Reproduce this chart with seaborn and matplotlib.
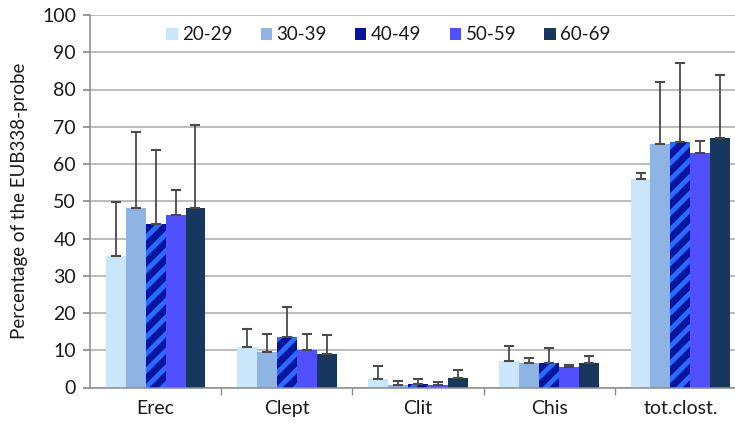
import numpy as np
import pandas as pd
import seaborn as sns
import matplotlib
matplotlib.use("Agg")
import matplotlib.pyplot as plt

# Mean percentage per taxon and age group, with upper standard deviation
categories = ["Erec", "Clept", "Clit", "Chis", "tot.clost."]
age_groups = ["20-29", "30-39", "40-49", "50-59", "60-69"]

means_20_29 = [35.3, 10.8, 2.3, 7.1, 56.0]
means_30_39 = [48.2, 9.6, 0.6, 6.5, 65.5]
means_40_49 = [44.0, 13.5, 1.0, 6.7, 65.9]
means_50_59 = [46.2, 10.0, 0.6, 5.6, 62.9]
means_60_69 = [48.2, 9.0, 2.6, 6.7, 66.9]

sd_20_29 = [14.4, 4.9, 3.5, 4.0, 1.7]
sd_30_39 = [20.4, 4.8, 1.2, 1.4, 16.4]
sd_40_49 = [19.7, 8.1, 1.3, 3.8, 21.2]
sd_50_59 = [6.8, 4.4, 0.9, 0.5, 3.2]
sd_60_69 = [22.3, 5.0, 2.1, 1.7, 16.9]

y_ticks = [0, 10, 20, 30, 40, 50, 60, 70, 80, 90, 100]

colors = ["#C9E6FA", "#8DB4E2", "#06159E", "#5050FF", "#17375E"]

all_means = [means_20_29, means_30_39, means_40_49, means_50_59, means_60_69]
all_sd = [sd_20_29, sd_30_39, sd_40_49, sd_50_59, sd_60_69]

rows = []
for g, m, s in zip(age_groups, all_means, all_sd):
    for c, mv, sv in zip(categories, m, s):
        rows.append({"taxon": c, "age": g, "pct": mv, "sd": sv})
df = pd.DataFrame(rows)

sns.set_theme(style="white")
plt.rcParams["font.family"] = ["Lato", "DejaVu Sans"]
plt.rcParams["hatch.linewidth"] = 3.5

fig = plt.figure(figsize=(7.35, 4.3), dpi=100)
ax = fig.add_axes([90 / 735, 42.5 / 430, 656 / 735, 372.5 / 430])

sns.barplot(data=df, x="taxon", y="pct", hue="age", order=categories,
            hue_order=age_groups, palette=colors, width=0.76,
            errorbar=None, saturation=1, linewidth=0, ax=ax)

# Patterned bars for the 40-49 group
for bar in ax.containers[2]:
    bar.set_hatch("//")
    bar.set_edgecolor("#2A6BFF")
    bar.set_linewidth(0)

# One-sided (upward) error bars placed on the drawn bars
for cont, g in zip(ax.containers, age_groups):
    sub = df[df["age"] == g].set_index("taxon").loc[categories]
    xs = [p.get_x() + p.get_width() / 2 for p in cont]
    hs = [p.get_height() for p in cont]
    ax.errorbar(xs, hs, yerr=[np.zeros(len(hs)), sub["sd"].values],
                fmt="none", ecolor="#4A4A4A", elinewidth=1.3,
                capsize=3.5, capthick=1.5, zorder=3)

ax.set_ylim(0, 100)
ax.set_xlim(-0.5, 4.5)
ax.set_yticks(y_ticks)
ax.yaxis.grid(True, color="#ABABAB", linewidth=1.1)
ax.set_axisbelow(True)
ax.set_xlabel("")
ax.set_ylabel("Percentage of the EUB338-probe", fontsize=13.5, color="#1a1a1a",
              labelpad=10)
ax.tick_params(axis="y", which="both", left=True, length=5, color="#8C8C8C",
               labelsize=14, labelcolor="#1a1a1a", pad=5)
ax.tick_params(axis="x", length=0, labelsize=14, labelcolor="#1a1a1a", pad=9)

# Category separator ticks on the x axis
ax.set_xticks([0.5, 1.5, 2.5, 3.5], minor=True)
ax.tick_params(axis="x", which="minor", bottom=True, length=5, color="#8C8C8C")

for side in ["top", "right"]:
    ax.spines[side].set_visible(False)
for side in ["left", "bottom"]:
    ax.spines[side].set_color("#8C8C8C")
    ax.spines[side].set_linewidth(1.1)

leg = ax.legend(loc="upper center", bbox_to_anchor=(0.455, 0.99), ncol=5,
                frameon=False, fontsize=13.5, handlelength=0.6,
                handleheight=0.6, handletextpad=0.25, columnspacing=1.5,
                borderaxespad=0)
for t in leg.get_texts():
    t.set_color("#1a1a1a")

fig.savefig("out.png", dpi=100)
